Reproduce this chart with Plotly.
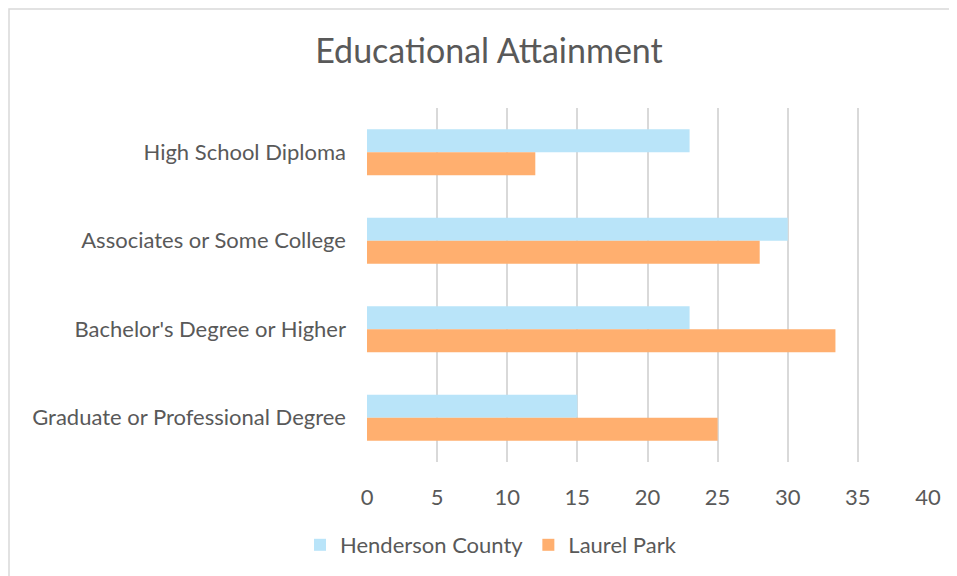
import plotly.graph_objects as go

categories = ["High School Diploma", "Associates or Some College",
              "Bachelor's Degree or Higher", "Graduate or Professional Degree"]
henderson = [23, 30, 23, 15]
laurel = [12, 28, 33.4, 25]
series_names = ["Henderson County", "Laurel Park"]
x_ticks = [0, 5, 10, 15, 20, 25, 30, 35, 40]

W, H = 957, 576
OFF = 8  # page body margin offset
# target plot area in screenshot pixels: x 367..928, y 108..462
L = 367 - OFF
R = W - (928 - OFF)
T = 108 - OFF
B = H - (462 - OFF)
pw, ph = W - L - R, H - T - B

def px2paper_x(px):
    return (px - OFF - L) / pw

def px2paper_y(py):
    return (H - B - (py - OFF)) / ph

fig = go.Figure()
fig.add_trace(go.Bar(y=categories, x=henderson, name=series_names[0], orientation="h",
                     marker=dict(color="#B9E4F9", line=dict(width=0))))
fig.add_trace(go.Bar(y=categories, x=laurel, name=series_names[1], orientation="h",
                     marker=dict(color="#FFAF6F", line=dict(width=0))))

font_family = "Lato, 'Open Sans', sans-serif"
fig.update_layout(
    width=W, height=H,
    margin=dict(l=L, r=R, t=T, b=B, autoexpand=False),
    paper_bgcolor="white", plot_bgcolor="white",
    barmode="group", bargap=0.48, bargroupgap=0,
    title=dict(text="Educational Attainment", x=(489 - OFF) / W, xref="container",
               xanchor="center",
               y=1 - (51 - OFF) / H, yref="container", yanchor="middle",
               font=dict(family=font_family, size=34, color="#595959")),
    font=dict(family=font_family, size=22, color="#595959"),
    legend=dict(orientation="h", x=px2paper_x(491), xanchor="center",
                y=px2paper_y(545), yanchor="middle",
                font=dict(size=22, color="#595959"), itemwidth=30,
                traceorder="normal"),
    xaxis=dict(range=[0, 40], tickvals=x_ticks, ticktext=[str(v) for v in x_ticks],
               showgrid=True, gridcolor="#D9D9D9", gridwidth=1.5,
               zeroline=False, showline=False, ticks="", ticklabelstandoff=20,
               tickfont=dict(size=22, color="#595959")),
    yaxis=dict(autorange="reversed", showgrid=False, zeroline=False, showline=False,
               ticks="", ticklabelstandoff=20,
               tickfont=dict(size=22, color="#595959")),
    shapes=[dict(type="rect", xref="paper", yref="paper",
                 x0=px2paper_x(9), x1=px2paper_x(970),
                 y0=px2paper_y(590), y1=px2paper_y(9),
                 line=dict(color="#D9D9D9", width=1.5), fillcolor="rgba(0,0,0,0)",
                 layer="below")],
)

fig.write_html("out.html")
